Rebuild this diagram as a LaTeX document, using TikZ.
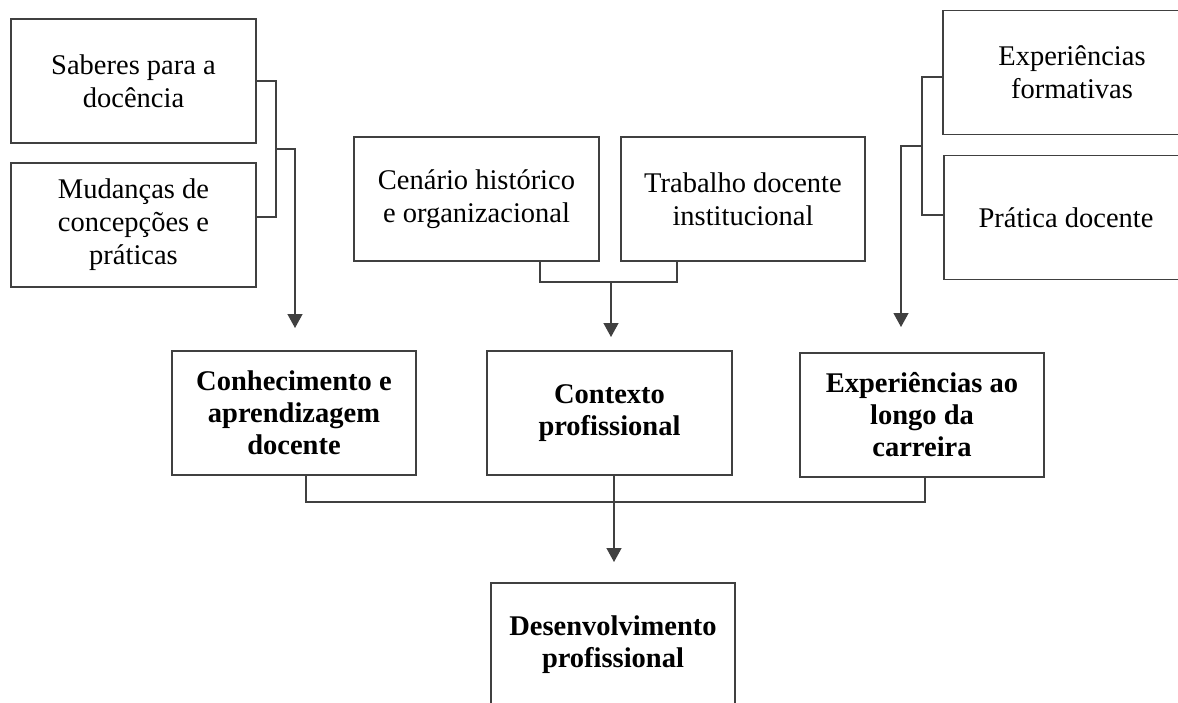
\documentclass[tikz,border=0pt]{standalone}
\usepackage{fontspec}
\setmainfont{Liberation Serif}
\usetikzlibrary{arrows.meta,calc}
\begin{document}
\begin{tikzpicture}[x=1pt,y=-1pt,
  plainbox/.style={draw=black!75,line width=1.3pt,rectangle,minimum height=124pt,inner sep=0pt,align=center,font=\fontsize{28.5}{33}\selectfont},
  boldbox/.style={plainbox,font=\fontsize{28.5}{32}\selectfont\bfseries},
  conn/.style={draw=black!75,line width=1.3pt},
  arr/.style={conn,-{Triangle[width=15pt,length=14pt]}}]
\clip (0,0) rectangle (1178,702);
\fill[white] (0,0) rectangle (1178,702);
% top-left group
\node[plainbox,minimum width=245pt] (A) at (133.5,81) {Saberes para a\\docência};
\node[plainbox,minimum width=245pt] (B) at (133.5,225) {Mudanças de\\concepções e\\práticas};
% top-middle group
\node[plainbox,minimum width=245pt] (C) at (476.5,199) {Cenário histórico\\e organizacional};
\node[plainbox,minimum width=244pt] (D) at (743,199) {Trabalho docente\\institucional};
% top-right group
\node[plainbox,minimum width=258pt] (E) at (1072,72.5) {Experiências\\formativas};
\node[plainbox,minimum width=244pt] (F) at (1066,217.5) {Prática docente};
% middle row
\node[boldbox,minimum width=244pt] (G) at (294,413) {Conhecimento e\\aprendizagem\\docente};
\node[boldbox,minimum width=245pt] (H) at (609.5,413) {Contexto\\profissional};
\node[boldbox,minimum width=244pt] (I) at (922,415) {Experiências ao\\longo da\\carreira};
% bottom
\node[boldbox,minimum width=244pt] (J) at (613,645) {Desenvolvimento\\profissional};
% coordinates
\coordinate (lb) at (276,149);
\coordinate (la) at (295,328);
\coordinate (cm) at (540,282);
\coordinate (dm) at (677,282);
\coordinate (mj) at (611,282);
\coordinate (mt) at (611,337);
\coordinate (rb) at (922,146);
\coordinate (ra) at (901,327);
\coordinate (bl) at (306,502);
\coordinate (br) at (925,502);
\coordinate (bm) at (614,502);
\coordinate (bt) at (614,562);
% left connectors
\draw[conn] (A.east) -| (lb) |- ([yshift=8pt]B.east);
\draw[arr] (lb) -| (la);
% middle connectors
\draw[conn] (C.south -| cm) -- (cm) -- (dm) -- (D.south -| dm);
\draw[arr] (mj) -- (mt);
% right connectors
\draw[conn] ([yshift=-4.5pt]E.west) -| (rb) |- ([yshift=2.5pt]F.west);
\draw[arr] (rb) -| (ra);
% bottom connectors
\draw[conn] (G.south -| bl) -- (bl) -- (br) -- (I.south -| br);
\draw[conn] (H.south -| bm) -- (bm);
\draw[arr] (bm) -- (bt);
\end{tikzpicture}
\end{document}
